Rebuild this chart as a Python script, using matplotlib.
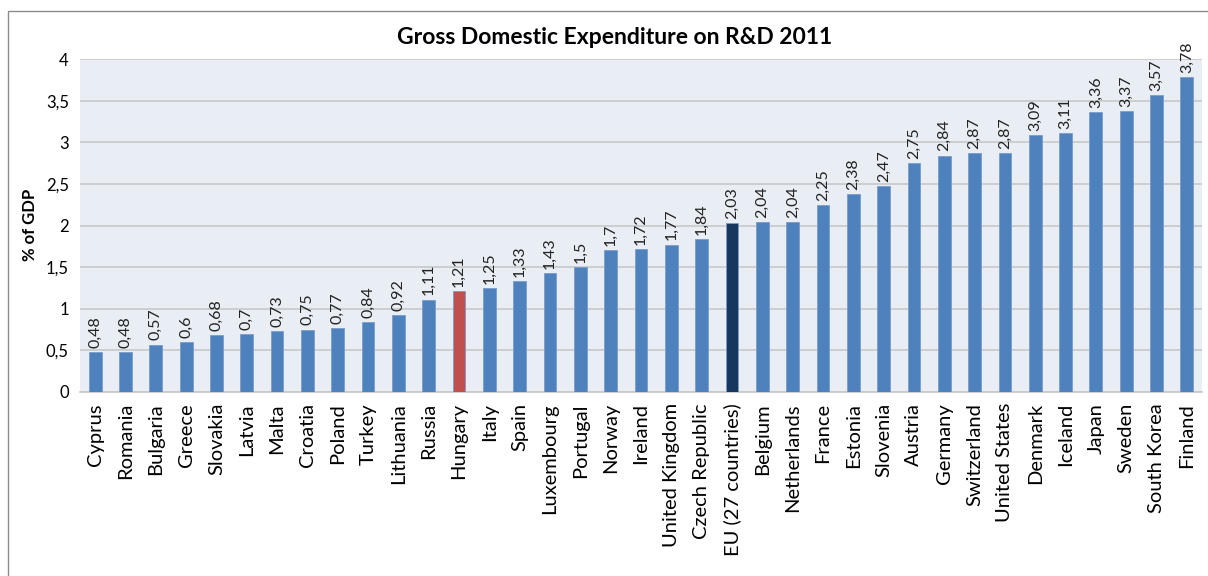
import matplotlib
matplotlib.use("Agg")
import matplotlib.pyplot as plt
from matplotlib.patches import Rectangle

countries = ["Cyprus", "Romania", "Bulgaria", "Greece", "Slovakia", "Latvia", "Malta",
             "Croatia", "Poland", "Turkey", "Lithuania", "Russia", "Hungary", "Italy",
             "Spain", "Luxembourg", "Portugal", "Norway", "Ireland", "United Kingdom",
             "Czech Republic", "EU (27 countries)", "Belgium", "Netherlands", "France",
             "Estonia", "Slovenia", "Austria", "Germany", "Switzerland", "United States",
             "Denmark", "Iceland", "Japan", "Sweden", "South Korea", "Finland"]
values = [0.48, 0.48, 0.57, 0.6, 0.68, 0.7, 0.73, 0.75, 0.77, 0.84, 0.92, 1.11, 1.21,
          1.25, 1.33, 1.43, 1.5, 1.7, 1.72, 1.77, 1.84, 2.03, 2.04, 2.04, 2.25, 2.38,
          2.47, 2.75, 2.84, 2.87, 2.87, 3.09, 3.11, 3.36, 3.37, 3.57, 3.78]
yticks = [0, 0.5, 1, 1.5, 2, 2.5, 3, 3.5, 4]

plt.rcParams['font.family'] = ['Lato', 'DejaVu Sans']

colors = []
for c in countries:
    if c == "Hungary":
        colors.append('#C0504D')
    elif c.startswith("EU"):
        colors.append('#17375E')
    else:
        colors.append('#4F81BD')

fig = plt.figure(figsize=(12.08, 5.76), dpi=100)
# chart border (Excel chart area)
fig.patches.append(Rectangle((8 / 1208, -0.01), 1.02, 1 - 11 / 576 + 0.01,
                             transform=fig.transFigure, fill=False,
                             edgecolor='#8C8C8C', linewidth=1))

ax = fig.add_axes([80 / 1208, 1 - 392 / 576, 1122 / 1208, 333 / 576])
ax.set_facecolor('#E9EDF4')

x = range(len(countries))
ax.bar(x, values, width=0.42, color=colors, edgecolor='#7A9CCB', linewidth=0.6, zorder=3)

for i, v in enumerate(values):
    ax.text(i, v + 0.05, f"{v:g}".replace('.', ','), rotation=90, ha='center',
            va='bottom', fontsize=11.5, color='#222222')

ax.set_xlim(-0.5, len(countries) - 0.5)
ax.set_ylim(0, 4)
ax.set_yticks(yticks)
ax.set_yticklabels([f"{t:g}".replace('.', ',') for t in yticks], fontsize=12)
ax.set_xticks(list(x))
ax.set_xticklabels(countries, rotation=90, fontsize=14.5)
ax.tick_params(axis='both', length=0, pad=8)
ax.yaxis.grid(True, color='#C8C8C8', linewidth=1.2, zorder=0)
ax.set_axisbelow(True)
for s in ['top', 'right', 'left']:
    ax.spines[s].set_visible(False)
ax.spines['bottom'].set_color('#C8C8C8')
ax.spines['bottom'].set_linewidth(1.2)

fig.text(30 / 1208, 1 - 225 / 576, "% of GDP", rotation=90, ha='center', va='center',
         fontsize=12, fontweight='bold')
fig.text(615 / 1208, 1 - 38 / 576, "Gross Domestic Expenditure on R&D 2011",
         ha='center', va='center', fontsize=16.5, fontweight='bold')

fig.savefig("out.png", dpi=100)
